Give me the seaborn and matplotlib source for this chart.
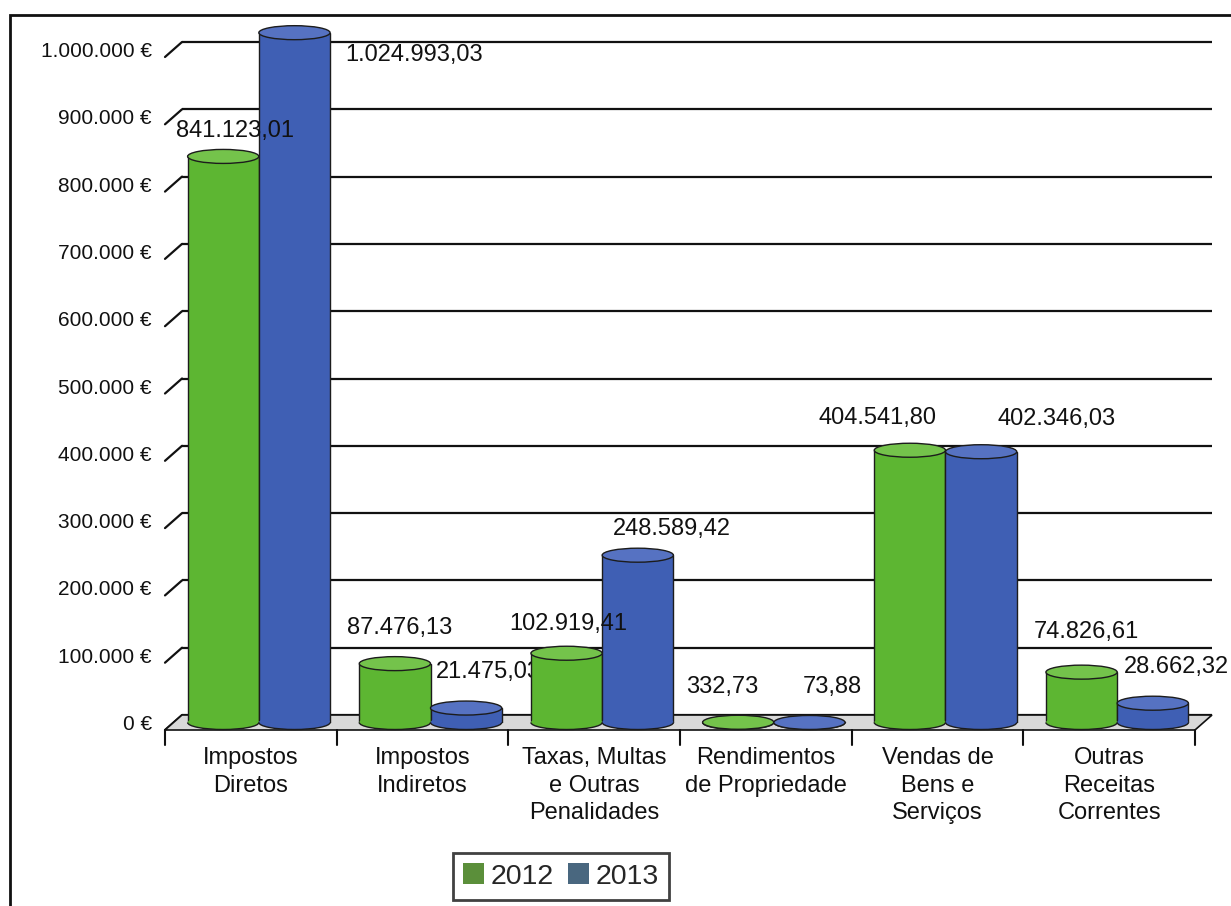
import matplotlib
matplotlib.use("Agg")
import matplotlib.pyplot as plt
from matplotlib.patches import Ellipse, Arc, Rectangle, Polygon
from matplotlib.ticker import FuncFormatter, FixedLocator
from matplotlib.transforms import ScaledTranslation
import seaborn as sns
import pandas as pd
import numpy as np

# ---------------- data ----------------
categories = ["Impostos\nDiretos", "Impostos\nIndiretos", "Taxas, Multas\ne Outras\nPenalidades",
              "Rendimentos\nde Propriedade", "Vendas de\nBens e\nServiços", "Outras\nReceitas\nCorrentes"]
years = ["2012", "2013"]
values_2012 = [841123.01, 87476.13, 102919.41, 332.73, 404541.80, 74826.61]
values_2013 = [1024993.03, 21475.03, 248589.42, 73.88, 402346.03, 28662.32]
y_ticks = [0, 100000, 200000, 300000, 400000, 500000, 600000, 700000, 800000, 900000, 1000000]

# ---------------- style ----------------
# label offsets (pixels) from the top-centre of each bar
label_dx = {"2012": [12, 5, 2, -16, -32, 5], "2013": [120, 22, 34, 23, 75, 24]}
label_dy = {"2012": [25, 36, 29, 35, 32, 40], "2013": [-22, 36, 26, 35, 33, 36]}
label_z = {"2012": [5] * 6, "2013": [5, 1.5, 5, 5, 5, 5]}

colors = {"2012": "#5db632", "2013": "#3f5fb4"}
cap_colors = {"2012": "#74c34b", "2013": "#5672c2"}
legend_colors = {"2012": "#5b8f3a", "2013": "#49677f"}
INK = "#111111"

df = pd.DataFrame({
    "categoria": categories * 2,
    "ano": [years[0]] * len(categories) + [years[1]] * len(categories),
    "valor": values_2012 + values_2013,
})

sns.set_theme(style="white")
plt.rcParams["font.family"] = ["Liberation Sans", "DejaVu Sans"]

W, H = 1231, 906
DPI = 100
fig = plt.figure(figsize=(W / DPI, H / DPI), dpi=DPI)
ax_left, ax_right = 165.0, 1195.0          # front plane
y0_px, ymax = 722.5, 1050000
px_per_unit = 673.0 / 1000000
ax = fig.add_axes([ax_left / W, 1 - y0_px / H, (ax_right - ax_left) / W, ymax * px_per_unit / H])

sns.barplot(data=df, x="categoria", y="valor", hue="ano", order=categories, hue_order=years,
            palette=colors, saturation=1, width=0.83, edgecolor="#1c1c1c", linewidth=1.0,
            ax=ax, zorder=2)

n = len(categories)
ax.set_xlim(-0.5, n - 0.5)
ax.set_ylim(0, ymax)

fig.canvas.draw()
p0 = ax.transData.transform((0, 0)); p1 = ax.transData.transform((1, 100000))
unit_py = (p1[1] - p0[1]) / 100000      # px per value unit
unit_px = (p1[0] - p0[0])               # px per category
depth = 7.5 / unit_py                   # half depth (value units)
dx_back = 17.0 / unit_px                # perspective shift (category units)

# back-wall gridlines with perspective slants
for v in y_ticks:
    ax.plot([-0.5 + dx_back, n - 0.5 + dx_back], [v + depth, v + depth], color=INK, lw=1.6,
            zorder=0.6, clip_on=False, solid_capstyle="butt")
    ax.plot([-0.5, -0.5 + dx_back], [v - depth, v + depth], color=INK, lw=1.6,
            zorder=0.6, clip_on=False)

# floor
ax.add_patch(Polygon([(-0.5, -depth), (-0.5 + dx_back, depth), (n - 0.5 + dx_back, depth),
                      (n - 0.5, -depth)], closed=True, facecolor="#d9d9d9", edgecolor=INK,
                     lw=1.2, zorder=0.7, clip_on=False))

# bars sit in the middle of the depth -> shift right by half the perspective offset
shift = ScaledTranslation(8 / DPI, 0, fig.dpi_scale_trans)
cap_h = 14 / unit_py

def fmt_pt(v):
    s = f"{v:,.2f}"
    return s.replace(",", "X").replace(".", ",").replace("X", ".")

for cont, yr in zip(ax.containers, years):
    for i, bar in enumerate(cont):
        bar.set_transform(ax.transData + shift)
        x = bar.get_x(); w = bar.get_width(); h = bar.get_height()
        cx = x + w / 2
        ax.add_patch(Ellipse((cx, 0), w, cap_h, facecolor=colors[yr], edgecolor="none",
                             zorder=2.05, clip_on=False, transform=ax.transData + shift))
        ax.add_patch(Arc((cx, 0), w, cap_h, theta1=180, theta2=360, edgecolor="#1c1c1c",
                         lw=1.0, zorder=2.06, clip_on=False, transform=ax.transData + shift))
        ax.add_patch(Ellipse((cx, h), w, cap_h, facecolor=cap_colors[yr], edgecolor="#1c1c1c",
                             lw=1.0, zorder=2.1, clip_on=False, transform=ax.transData + shift))
        ax.annotate(fmt_pt(h), xy=(cx, h), xycoords=ax.transData + shift,
                    xytext=(label_dx[yr][i], label_dy[yr][i]), textcoords="offset pixels",
                    ha="center", va="center", fontsize=17, color=INK,
                    zorder=label_z[yr][i], annotation_clip=False)

# axes styling
for s in ["left", "right", "top", "bottom"]:
    ax.spines[s].set_visible(False)
ax.set_xlabel(""); ax.set_ylabel("")
ax.yaxis.set_major_locator(FixedLocator(y_ticks))
ax.yaxis.set_major_formatter(FuncFormatter(lambda v, p: f"{int(v):,}".replace(",", ".") + " €"))
ax.tick_params(axis="y", length=0, pad=9.5, labelsize=15, labelcolor=INK)
ax.tick_params(axis="x", which="major", length=0, pad=17.5, labelsize=17, labelcolor=INK)
ax.tick_params(axis="x", which="minor", length=0)
for lab in ax.get_xticklabels():
    lab.set_linespacing(1.34)
# category boundary ticks hanging from the floor's front edge
tick_len = 15 / unit_py
for b in np.arange(-0.5, n):
    ax.plot([b, b], [-depth, -depth - tick_len], color=INK, lw=1.5, zorder=0.8, clip_on=False)

# legend
handles, labels = ax.get_legend_handles_labels()
if ax.legend_ is not None:
    ax.legend_.remove()
leg = fig.legend(handles, labels, loc="center", bbox_to_anchor=(561 / W, 1 - 876.5 / H), ncol=2,
                 fontsize=20.5, frameon=True, fancybox=False, handlelength=0.72, handleheight=0.72,
                 handletextpad=0.25, columnspacing=0.5, borderpad=0.35)
for hnd, yr in zip(leg.legend_handles, labels):
    hnd.set_facecolor(legend_colors[yr]); hnd.set_edgecolor("none")
leg.get_frame().set_edgecolor(INK)
leg.get_frame().set_linewidth(2.0)

# outer frame (left and top visible as in the scan)
fig.patches.append(Rectangle((10 / W, -0.02), 1.05, 1 - 15 / H + 0.02, transform=fig.transFigure,
                             fill=False, edgecolor=INK, lw=2.0))

fig.savefig("out.png", dpi=DPI)
